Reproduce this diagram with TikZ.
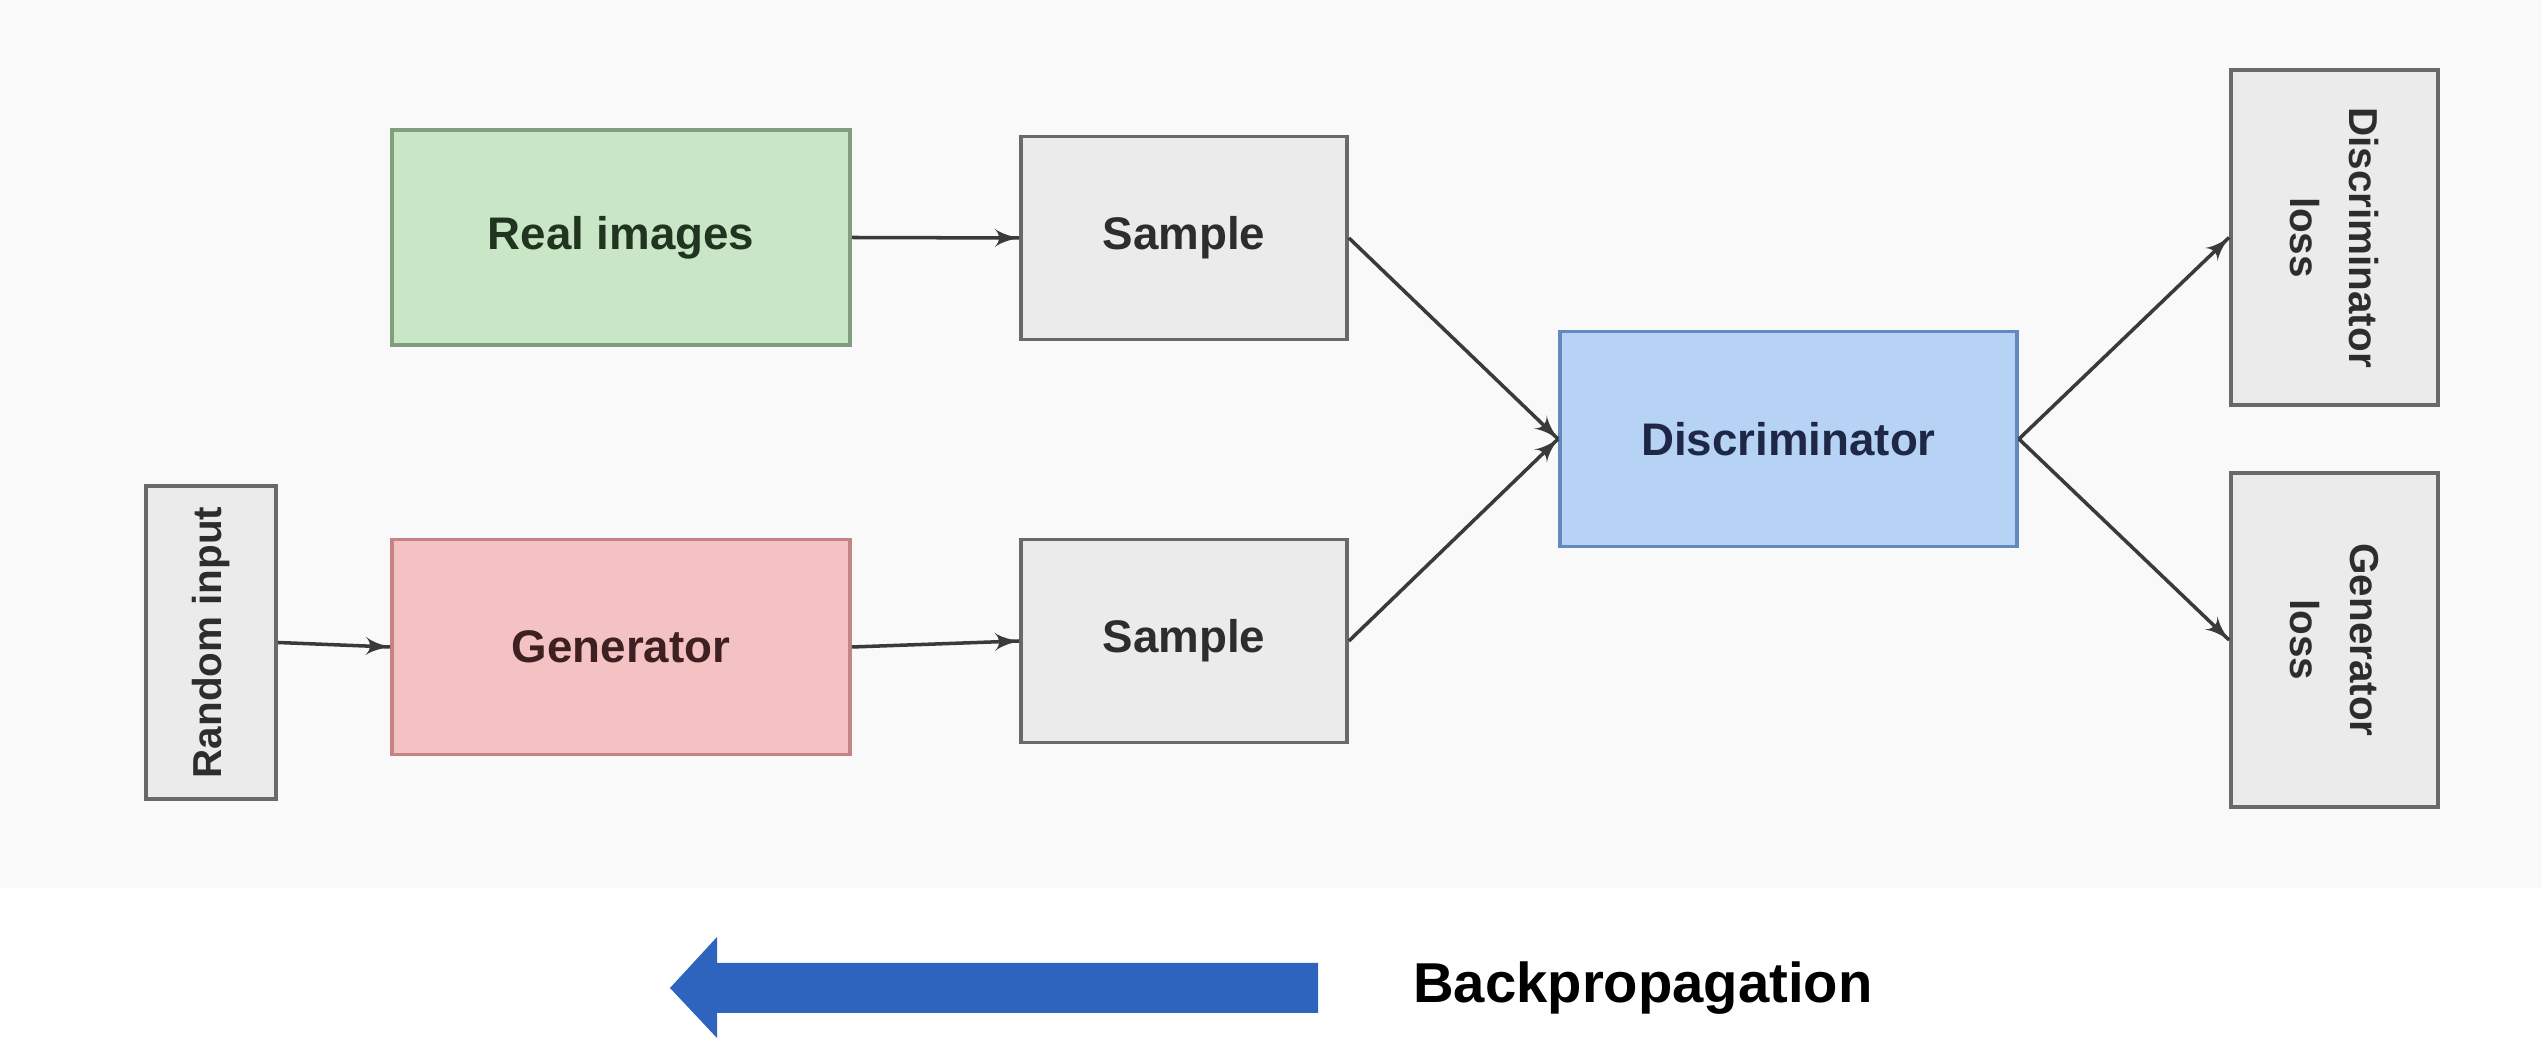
\documentclass[tikz,border=0pt]{standalone}
\usepackage{fontspec}
\usepackage{tikz}
\setmainfont{Liberation Sans}
\usetikzlibrary{arrows}
\usetikzlibrary{decorations.markings}
\definecolor{panel}{RGB}{249,249,249}
\definecolor{realfill}{RGB}{201,231,198}
\definecolor{realdraw}{RGB}{128,158,125}
\definecolor{realtext}{RGB}{32,52,32}
\definecolor{genfill}{RGB}{245,194,196}
\definecolor{gendraw}{RGB}{196,132,134}
\definecolor{gentext}{RGB}{62,32,32}
\definecolor{discfill}{RGB}{182,210,245}
\definecolor{discdraw}{RGB}{98,138,188}
\definecolor{disctext}{RGB}{30,40,70}
\definecolor{greyfill}{RGB}{235,235,235}
\definecolor{greydraw}{RGB}{105,105,105}
\definecolor{greytext}{RGB}{45,45,45}
\definecolor{linecol}{RGB}{58,58,58}
\definecolor{bpblue}{RGB}{46,99,190}
\tikzset{->/.style = {decoration={markings,
                                  mark=at position 1 with {\arrow[scale=1.2]{latex'}}},
                      postaction={decorate}}}
\tikzset{block/.style = {draw, line width=1.1pt, font=\fontsize{13}{15}\selectfont\bfseries},
         colourbox/.style = {block, minimum width=4.58cm, minimum height=2.15cm},
         samplebox/.style = {block, draw=greydraw, fill=greyfill, text=greytext,
                              minimum width=3.26cm, minimum height=2.03cm},
         sidebox/.style = {block, draw=greydraw, fill=greyfill, text=greytext, align=center,
                            font=\fontsize{11.5}{17}\selectfont\bfseries},
         conn/.style = {line width=1pt, draw=linecol}}

\begin{document}
\begin{tikzpicture}
      \useasboundingbox (0, 0) rectangle (25.42, 10.42);
      \fill [panel] (0, 1.54) rectangle (25.42, 10.42);
      \node [colourbox, draw=realdraw, fill=realfill, text=realtext] (real) at (6.21, 8.045) {Real images};
      \node [colourbox, draw=gendraw, fill=genfill, text=gentext] (gen) at (6.21, 3.95) {Generator};
      \node [samplebox] (sampleA) at (11.84, 8.04) {Sample};
      \node [samplebox] (sampleB) at (11.84, 4.01) {Sample};
      \node [colourbox, draw=discdraw, fill=discfill, text=disctext, minimum width=4.57cm] (disc) at (17.885, 6.03) {Discriminator};
      \node [sidebox, rotate=90, minimum width=3.13cm, minimum height=1.30cm] (rand) at (2.11, 3.995) {Random input};
      \node [sidebox, rotate=-90, minimum width=3.35cm, minimum height=2.07cm] (dloss) at (23.345, 8.045) {Discriminator\\loss};
      \node [sidebox, rotate=-90, minimum width=3.34cm, minimum height=2.07cm] (gloss) at (23.345, 4.02) {Generator\\loss};
      \draw [->, conn] (rand.south) -- (gen.west);
      \draw [->, conn] (real.east) -- (sampleA.west);
      \draw [->, conn] (gen.east) -- (sampleB.west);
      \draw [->, conn] (sampleA.east) -- (disc.west);
      \draw [->, conn] (sampleB.east) -- (disc.west);
      \draw [->, conn] (disc.east) -- (dloss.south);
      \draw [->, conn] (disc.east) -- (gloss.south);
      \fill [bpblue] (6.70, 0.54) -- (7.17, 1.05) -- (7.17, 0.79) -- (13.18, 0.79)
                     -- (13.18, 0.29) -- (7.17, 0.29) -- (7.17, 0.04) -- cycle;
      \node [font=\fontsize{16}{19}\selectfont\bfseries] (backprop) at (16.43, 0.54) {Backpropagation};
    \end{tikzpicture}
\end{document}
